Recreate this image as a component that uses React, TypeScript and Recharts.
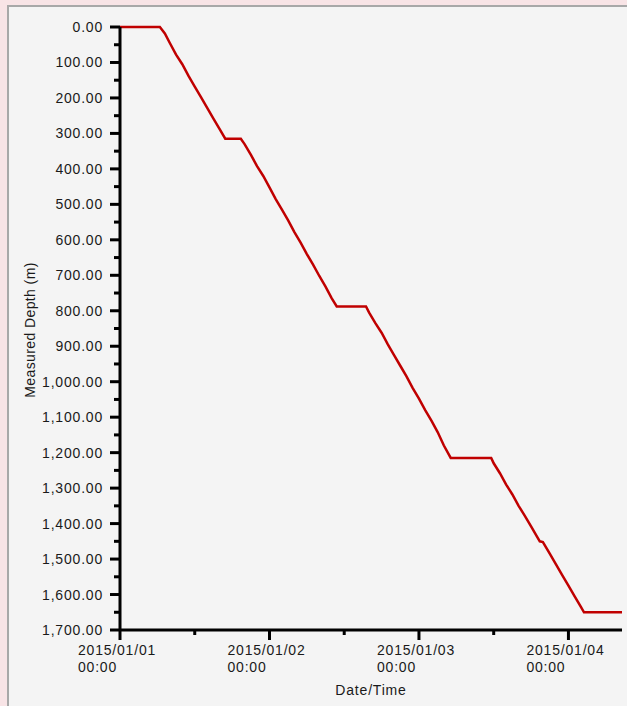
import { LineChart, Line, XAxis, YAxis, Label } from 'recharts'

// ─── Data (hours since 2015/01/01 00:00, measured depth in m) ─────
const hours = [
  0, 6.4, 7.2, 8.0, 9.0, 10.0, 11.0, 12.0, 13.0, 14.0, 15.0, 16.0, 16.9,
  19.4, 20, 21, 22, 23, 24, 25, 26, 27, 28, 29, 30, 31, 32, 33, 34, 34.8,
  39.5, 40, 41, 42, 43, 44, 45, 46, 47, 48, 49, 50, 51, 52, 53.1,
  59.6, 60, 61, 62, 63, 64, 65, 66, 67, 67.4, 67.9, 69, 70, 71, 72, 73, 74, 74.5,
  80.6,
]
const depth = [
  0, 0, 18, 45, 78, 105, 138, 168, 198, 228, 258, 288, 315,
  315, 330, 360, 392, 420, 452, 485, 515, 545, 578, 608, 640, 670, 702, 732, 765, 788,
  788, 805, 835, 862, 895, 925, 955, 985, 1018, 1048, 1080, 1110, 1142, 1180, 1215,
  1215, 1230, 1258, 1290, 1318, 1350, 1378, 1408, 1438, 1450, 1452, 1485, 1515, 1545, 1575, 1605, 1635, 1650,
  1650,
]

const xTicks = [0, 12, 24, 36, 48, 60, 72]
const xLabels = ['2015/01/01', '2015/01/02', '2015/01/03', '2015/01/04']
const yTicks = Array.from({ length: 35 }, (_, i) => i * 50)

const data = hours.map((h, i) => ({ h, d: depth[i] }))

const FONT = '"Liberation Sans", Arial, sans-serif'
const TEXT = '#1a1a1a'

const fmtDepth = (v: number) =>
  v.toLocaleString('en-US', { minimumFractionDigits: 2, maximumFractionDigits: 2 })

// ─── Custom ticks ────────────────────────────────────────────────
function YTick(props: any) {
  const { x, y, payload } = props
  const major = payload.value % 100 === 0
  return (
    <g>
      <line x1={x - (major ? 10 : 6)} x2={x} y1={y} y2={y} stroke="#000" strokeWidth={3} />
      {major && (
        <text x={x - 17} y={y} dy={5} textAnchor="end" fontSize={14} letterSpacing={0.8}
          fontFamily={FONT} fill={TEXT}>
          {fmtDepth(payload.value)}
        </text>
      )}
    </g>
  )
}

function XTick(props: any) {
  const { x, y, payload } = props
  const major = payload.value % 24 === 0
  return (
    <g>
      <line x1={x} x2={x} y1={y} y2={y + (major ? 10 : 5)} stroke="#000" strokeWidth={3} />
      {major && (
        <text x={x - 42} y={y + 25} textAnchor="start" fontSize={14} letterSpacing={0.8}
          fontFamily={FONT} fill={TEXT}>
          <tspan x={x - 42}>{xLabels[payload.value / 24]}</tspan>
          <tspan x={x - 42} dy={17}>00:00</tspan>
        </text>
      )}
    </g>
  )
}

export default function App() {
  return (
    <div style={{ position: 'absolute', left: 0, top: 0, width: 627, height: 706, background: '#f8e4e6', overflow: 'hidden' }}>
      <div
        style={{
          position: 'absolute', left: 7, top: 5, width: 640, height: 720,
          background: '#f4f4f4', borderTop: '2px solid #a8a8a8', borderLeft: '2px solid #a8a8a8',
        }}
      />
      <div style={{ position: 'absolute', left: 0, top: 0 }}>
        <LineChart width={627} height={706} data={data} margin={{ top: 27, right: 5, left: 0, bottom: 0 }}>
          <XAxis
            dataKey="h" type="number" domain={[0, 80.6]} ticks={xTicks} interval={0}
            height={76} tickSize={0} tickMargin={0} tick={<XTick />}
            axisLine={{ stroke: '#000', strokeWidth: 3 }}
          >
            <Label
              content={() => (
                <text x={371} y={695} textAnchor="middle" fontSize={14} letterSpacing={0.8}
                  fontFamily={FONT} fill={TEXT}>
                  Date/Time
                </text>
              )}
            />
          </XAxis>
          <YAxis
            dataKey="d" type="number" reversed domain={[0, 1700]} ticks={yTicks} interval={0}
            width={120} tickSize={0} tickMargin={0} tick={<YTick />}
            axisLine={{ stroke: '#000', strokeWidth: 3 }}
          >
            <Label
              content={() => (
                <text x={35} y={330} transform="rotate(-90 35 330)" textAnchor="middle" fontSize={14}
                  letterSpacing={0.4} fontFamily={FONT} fill={TEXT}>
                  Measured Depth (m)
                </text>
              )}
            />
          </YAxis>
          <Line
            type="linear" dataKey="d" stroke="#c00000" strokeWidth={2.5} dot={false}
            isAnimationActive={false}
          />
        </LineChart>
      </div>
    </div>
  )
}
